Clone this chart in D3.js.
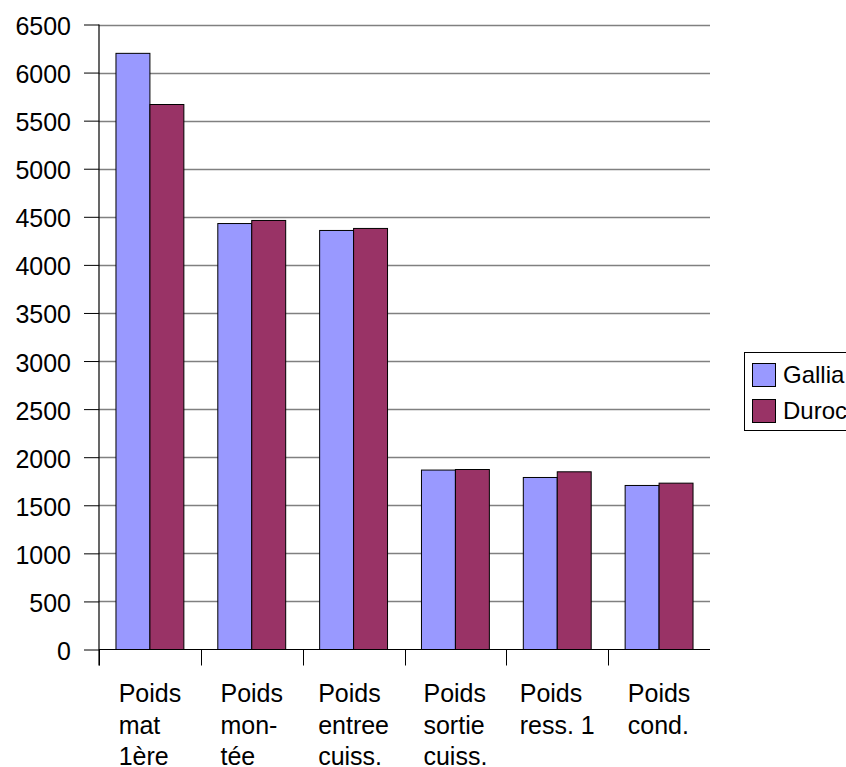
<!DOCTYPE html>
<html>
<head>
<meta charset="utf-8">
<script src="https://cdn.jsdelivr.net/npm/d3@7"></script>
<style>
  html, body { margin: 0; padding: 0; background: #fff; }
  svg { display: block; font-family: "Liberation Sans", Arial, sans-serif; }
</style>
</head>
<body>
<svg id="chart" width="846" height="767"></svg>
<script>
const categories = ["mat1", "montee", "entree", "sortie", "ress1", "cond"];
const categoryLabels = [
  ["Poids", "mat", "1ère"],
  ["Poids", "mon-", "tée"],
  ["Poids", "entree", "cuiss."],
  ["Poids", "sortie", "cuiss."],
  ["Poids", "ress. 1"],
  ["Poids", "cond."]
];
const seriesNames = ["Gallia", "Duroc"];
const galliaValues = [6200, 4430, 4358, 1866, 1789, 1706];
const durocValues  = [5668, 4462, 4379, 1872, 1848, 1730];
const yTicks = [0, 500, 1000, 1500, 2000, 2500, 3000, 3500, 4000, 4500, 5000, 5500, 6000, 6500];
const colors = ["#9999FF", "#993366"];

(function () {
const seriesValues = [galliaValues, durocValues];
const data = categories.map((c, i) => ({ cat: c, i, vals: seriesNames.map((s, k) => ({ s, k, v: seriesValues[k][i] })) }));

const svg = d3.select("#chart");
const pLeft = 99, pRight = 710, pTop = 24.5, pBottom = 649.5;

const x = d3.scaleBand().domain(categories).range([pLeft, pRight]).paddingInner(0).paddingOuter(0);
const bw = x.bandwidth();
const x1 = d3.scaleBand().domain(seriesNames).range([bw / 6, bw * 5 / 6]).padding(0);
const y = d3.scaleLinear().domain([0, 6500]).range([pBottom, pTop]);

// gridlines
svg.append("g").selectAll("line").data(yTicks.filter(t => t > 0)).join("line")
  .attr("x1", pLeft).attr("x2", pRight)
  .attr("y1", d => Math.round(y(d)) + 0.5).attr("y2", d => Math.round(y(d)) + 0.5)
  .attr("stroke", "#808080").attr("stroke-width", 1.4);

// bars
const g = svg.append("g").selectAll("g").data(data).join("g")
  .attr("transform", d => `translate(${x(d.cat)},0)`);
g.selectAll("rect").data(d => d.vals).join("rect")
  .attr("x", d => x1(d.s))
  .attr("y", d => y(d.v))
  .attr("width", x1.bandwidth())
  .attr("height", d => y(0) - y(d.v))
  .attr("fill", d => colors[d.k])
  .attr("stroke", "#000").attr("stroke-width", 1);

// y axis
const yAxis = d3.axisLeft(y).tickValues(yTicks).tickSize(15).tickPadding(13).tickFormat(d3.format("d"));
const ya = svg.append("g").attr("transform", `translate(${pLeft},0)`).call(yAxis);
ya.select(".domain").attr("stroke", "#000").attr("stroke-width", 1.2).attr("d", `M0,${pTop}V${pBottom + 16}`);
ya.selectAll(".tick line").attr("stroke", "#000");
ya.selectAll(".tick text").attr("font-size", 25).attr("font-family", "Liberation Sans, Arial, sans-serif")
  .attr("fill", "#000").attr("dy", "0.4em");

// x axis line and ticks
svg.append("line").attr("x1", pLeft).attr("x2", pRight).attr("y1", pBottom).attr("y2", pBottom)
  .attr("stroke", "#000").attr("stroke-width", 1.2);
svg.append("g").selectAll("line").data(categories).join("line")
  .attr("x1", d => Math.round(x(d)) + 0.5).attr("x2", d => Math.round(x(d)) + 0.5)
  .attr("y1", pBottom).attr("y2", pBottom + 16)
  .attr("stroke", "#000").attr("stroke-width", 1);

// x labels
const lab = svg.append("g").selectAll("text").data(data).join("text")
  .attr("font-size", 25).attr("fill", "#000");
lab.each(function (d) {
  const t = d3.select(this);
  categoryLabels[d.i].forEach((line, j) => {
    t.append("tspan").text(line).attr("y", 702 + j * 31.7);
  });
  let maxW = 0;
  t.selectAll("tspan").each(function () { maxW = Math.max(maxW, this.getComputedTextLength()); });
  const cx = x(d.cat) + bw / 2;
  t.selectAll("tspan").attr("x", cx - maxW / 2);
});

// legend
const lg = svg.append("g");
lg.append("rect").attr("x", 744.5).attr("y", 352.5).attr("width", 140).attr("height", 78)
  .attr("fill", "#fff").attr("stroke", "#000").attr("stroke-width", 1);
const li = lg.selectAll("g.item").data(seriesNames).join("g").attr("class", "item");
li.append("rect").attr("x", 752.5).attr("y", (d, i) => 363.5 + i * 36)
  .attr("width", 23).attr("height", 23)
  .attr("fill", (d, i) => colors[i]).attr("stroke", "#000").attr("stroke-width", 1);
li.append("text").attr("x", 783).attr("y", (d, i) => 383 + i * 36)
  .attr("font-size", 24).attr("fill", "#000").text(d => d);
})();
</script>
</body>
</html>
